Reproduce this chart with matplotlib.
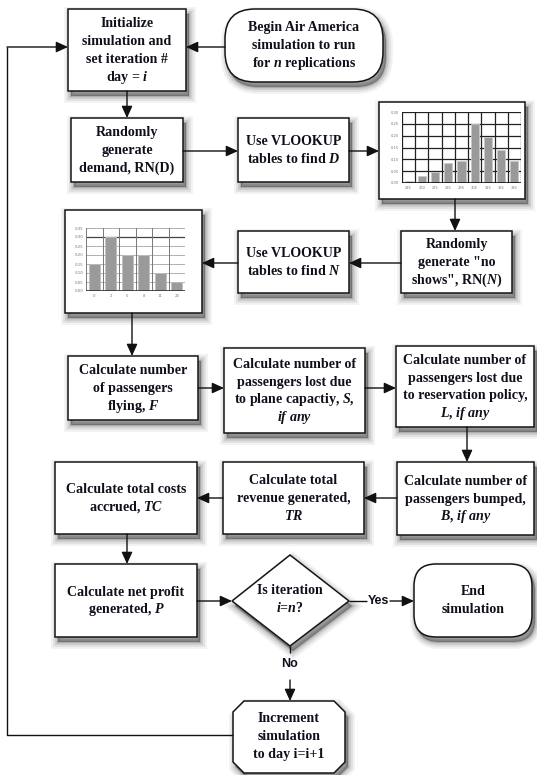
import matplotlib
matplotlib.use('Agg')
import matplotlib.pyplot as plt
from matplotlib.patches import Rectangle, FancyBboxPatch, Polygon

plt.rcParams['mathtext.fontset'] = 'custom'
plt.rcParams['mathtext.it'] = 'Liberation Serif:italic:bold'
plt.rcParams['mathtext.rm'] = 'Liberation Serif:bold'
plt.rcParams['mathtext.bf'] = 'Liberation Serif:bold'

# ---------------- data ----------------
demand_labels = ['235', '260', '275', '285', '295', '305', '315', '325', '335']
demand_probs = [0.01, 0.03, 0.045, 0.085, 0.095, 0.25, 0.195, 0.14, 0.095]
demand_yticks = [0.00, 0.05, 0.10, 0.15, 0.20, 0.25, 0.30]

noshow_labels = ['0', '2', '5', '8', '11', '20']
noshow_probs = [0.15, 0.30, 0.20, 0.20, 0.10, 0.05]
noshow_yticks = [0.00, 0.05, 0.10, 0.15, 0.20, 0.25, 0.30, 0.35]

box_text = {
    'init': "Initialize\nsimulation and\nset iteration #\nday = $i$",
    'begin': "Begin Air America\nsimulation to run\nfor $n$ replications",
    'rnd_d': "Randomly\ngenerate\ndemand, RN(D)",
    'vl_d': "Use VLOOKUP\ntables to find $D$",
    'rnd_n': 'Randomly\ngenerate "no\nshows", RN($N$)',
    'vl_n': "Use VLOOKUP\ntables to find $N$",
    'F': "Calculate number\nof passengers\nflying, $F$",
    'S': "Calculate number of\npassengers lost due\nto plane capactiy, $S$,\n$if\\ any$",
    'L': "Calculate number of\npassengers lost due\nto reservation policy,\n$L$, $if\\ any$",
    'B': "Calculate number of\npassengers bumped,\n$B$, $if\\ any$",
    'TR': "Calculate total\nrevenue generated,\n$TR$",
    'TC': "Calculate total costs\naccrued, $TC$",
    'P': "Calculate net profit\ngenerated, $P$",
    'dec': "Is iteration\n$i$=$n$?",
    'end': "End\nsimulation",
    'inc': "Increment\nsimulation\nto day i=i+1",
}
yes_label = 'Yes'
no_label = 'No'

# ---------------- layout (pixels) ----------------
W, H = 537, 775
TXT = '#10101c'
FS = 10.1
LS = 17.8

fig = plt.figure(figsize=(W / 100, H / 100), dpi=100)
ax = fig.add_axes([0, 0, 1, 1])
ax.set_xlim(0, W)
ax.set_ylim(H, 0)
ax.axis('off')


def shadowed(make, z=2):
    for lw, a in [(10, 0.05), (7, 0.07), (4, 0.10), (1.5, 0.14)]:
        p = make(3, 5)
        p.set_facecolor((0, 0, 0, a))
        p.set_edgecolor((0, 0, 0, a))
        p.set_linewidth(lw)
        p.set_zorder(z - 1)
        ax.add_patch(p)
    p = make(0, 0)
    p.set_facecolor('white')
    p.set_edgecolor('#151515')
    p.set_linewidth(1.1)
    p.set_zorder(z)
    ax.add_patch(p)


def rect_maker(x0, y0, x1, y1):
    return lambda dx, dy: Rectangle((x0 + dx, y0 + dy), x1 - x0, y1 - y0)


def round_maker(x0, y0, x1, y1, r):
    return lambda dx, dy: FancyBboxPatch((x0 + dx, y0 + dy), x1 - x0, y1 - y0,
                                         boxstyle=f'round,pad=0,rounding_size={r}')


def poly_maker(pts):
    return lambda dx, dy: Polygon([(x + dx, y + dy) for x, y in pts], closed=True)


def label(key, x, y):
    lines = box_text[key].split('\n')
    n = len(lines)
    for i, s in enumerate(lines):
        yb = y + (i - (n - 1) / 2) * LS + 4
        ax.text(x, yb, s, ha='center', va='baseline', fontsize=FS,
                family='Liberation Serif', weight='bold', color=TXT, zorder=5)


def arrow(x0, y0, x1, y1):
    ax.annotate('', xy=(x1, y1), xytext=(x0, y0),
                arrowprops=dict(arrowstyle='-|>,head_length=0.55,head_width=0.25',
                                color='#111111', lw=1.0, shrinkA=0, shrinkB=0,
                                mutation_scale=13), zorder=4)


def line(xs, ys):
    ax.plot(xs, ys, color='#111111', lw=1.0, zorder=3, solid_capstyle='butt')


# boxes: (x0, y0, x1, y1)
boxes = {
    'init': (68, 9, 186, 91),
    'rnd_d': (71, 118, 183, 182),
    'vl_d': (238, 118, 349, 182),
    'rnd_n': (401, 231, 512, 293),
    'vl_n': (238, 231, 349, 293),
    'F': (68, 356, 198, 420),
    'S': (224, 348, 365, 433),
    'L': (396, 346, 534, 427),
    'B': (397, 462, 534, 535),
    'TR': (223, 462, 364, 534),
    'TC': (55, 462, 197, 534),
    'P': (55, 564, 197, 637),
}
for k, (x0, y0, x1, y1) in boxes.items():
    shadowed(rect_maker(x0, y0, x1, y1))
    label(k, (x0 + x1) / 2, (y0 + y1) / 2)

# begin / end terminators
shadowed(round_maker(225, 9, 383, 82, 30))
label('begin', 304, 45)
shadowed(round_maker(414, 564, 532, 637, 22))
label('end', 473, 600)

# decision diamond
shadowed(poly_maker([(232, 601), (290, 555), (349, 601), (290, 646)]))
label('dec', 290, 599)

# increment octagon
c = 11
x0, y0, x1, y1 = 233, 701, 345, 773
shadowed(poly_maker([(x0 + c, y0), (x1 - c, y0), (x1, y0 + c), (x1, y1 - c),
                     (x1 - c, y1), (x0 + c, y1), (x0, y1 - c), (x0, y0 + c)]))
label('inc', 289, 736)

# mini chart frames
chart1 = (379, 102, 525, 199)
chart2 = (65, 210, 202, 313)
shadowed(rect_maker(*chart1))
shadowed(rect_maker(*chart2))


def inset(x0, y0, x1, y1):
    a = fig.add_axes([x0 / W, 1 - y1 / H, (x1 - x0) / W, (y1 - y0) / H])
    a.set_zorder(10)
    return a


# chart 1: demand distribution
a1 = inset(402, 112, 521, 183)
n1 = len(demand_probs)
a1.bar(range(n1), demand_probs, width=0.62, color='#9a9a9a', edgecolor='#c8c8c8',
       lw=0.6, zorder=2)
a1.set_xlim(-0.5, n1 - 0.5)
a1.set_ylim(0, 0.30)
a1.set_yticks(demand_yticks)
a1.set_yticklabels([f'{v:.2f}' for v in demand_yticks])
for v in demand_yticks:
    a1.axhline(v, color='#222222', lw=0.9, zorder=1)
for i in range(n1 + 1):
    a1.axvline(i - 0.5, color='#222222', lw=0.9, zorder=1)
a1.axhline(0, color='black', lw=1.8, zorder=3)
a1.set_xticks(range(n1))
a1.set_xticklabels(demand_labels)
a1.tick_params(length=0, labelsize=2.6, labelcolor='#777777', pad=2)
for s in a1.spines.values():
    s.set_visible(False)

# chart 2: no-show distribution
a2 = inset(86, 228, 185, 291)
n2 = len(noshow_probs)
a2.bar(range(n2), noshow_probs, width=0.66, color='#9a9a9a', edgecolor='#c0c0c0',
       lw=0.6, zorder=2)
a2.set_xlim(-0.5, n2 - 0.5)
a2.set_ylim(0, 0.35)
a2.set_yticks(noshow_yticks)
a2.set_yticklabels([f'{v:.2f}' for v in noshow_yticks])
for v in noshow_yticks:
    a2.axhline(v, color='#b0b0b0', lw=0.7, zorder=1)
a2.axhline(0.30, color='#444444', lw=0.9, zorder=1)
for i in range(n2 + 1):
    a2.axvline(i - 0.5, color='#777777', lw=0.7, zorder=1)
a2.axhline(0, color='#333333', lw=1.2, zorder=3)
a2.set_xticks(range(n2))
a2.set_xticklabels(noshow_labels)
a2.tick_params(length=0, labelsize=2.8, labelcolor='#777777', pad=2)
for s in a2.spines.values():
    s.set_visible(False)

# connectors
arrow(225, 47, 186, 47)          # begin -> init
arrow(127, 91, 127, 118)         # init -> random demand
arrow(183, 151, 238, 151)        # random demand -> vlookup D
arrow(349, 151, 379, 151)        # vlookup D -> chart1
arrow(455, 199, 455, 231)        # chart1 -> random no shows
arrow(401, 263, 349, 263)        # no shows -> vlookup N
arrow(238, 263, 202, 263)        # vlookup N -> chart2
arrow(132, 313, 132, 356)        # chart2 -> F
arrow(198, 388, 224, 388)        # F -> S
arrow(365, 388, 396, 388)        # S -> L
arrow(467, 427, 467, 462)        # L -> B
arrow(397, 498, 364, 498)        # B -> TR
arrow(223, 498, 197, 498)        # TR -> TC
arrow(127, 534, 127, 564)        # TC -> P
arrow(197, 601, 232, 601)        # P -> decision

# yes branch
line([349, 367], [601, 601])
ax.text(378, 601, yes_label, ha='center', va='center', fontsize=9,
        family='Liberation Sans', weight='bold', color=TXT, zorder=5)
arrow(390, 601, 414, 601)

# no branch
line([290, 290], [646, 653])
ax.text(290, 664, no_label, ha='center', va='center', fontsize=9,
        family='Liberation Sans', weight='bold', color=TXT, zorder=5)
arrow(290, 680, 290, 701)

# loop back
line([233, 7, 7], [735, 735, 47])
arrow(7, 47, 68, 47)

fig.savefig('out.png', dpi=100)
